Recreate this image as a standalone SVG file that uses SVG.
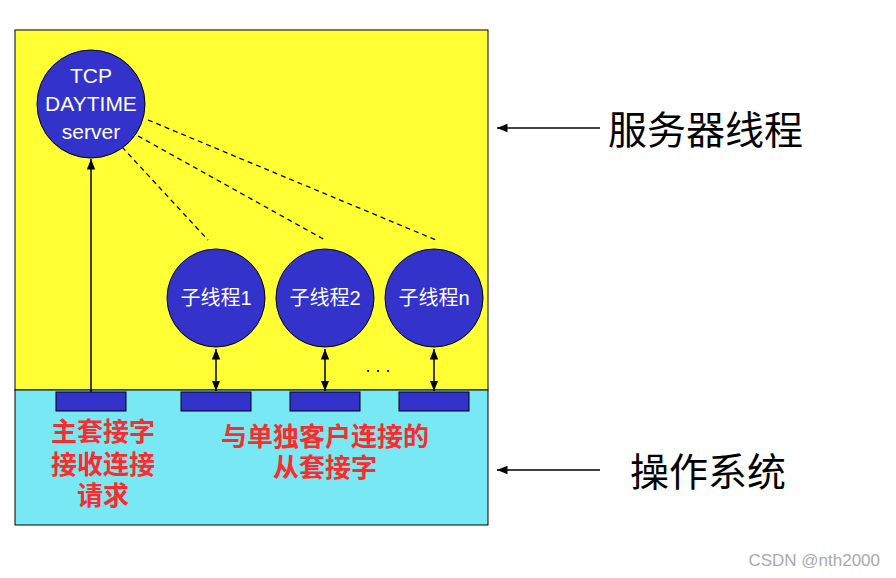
<svg xmlns="http://www.w3.org/2000/svg" width="896" height="578" viewBox="0 0 896 578">
<defs>
<marker id="ah" viewBox="0 0 10 10" refX="10" refY="5" markerWidth="7" markerHeight="7" orient="auto-start-reverse"><path d="M0,1 L10,5 L0,9 z" fill="#000"/></marker>
<style>
.c{fill:#3333cc;stroke:#000;stroke-width:1}
.s{fill:#3333cc;stroke:#000;stroke-width:1}
.w{fill:#fff;font-family:"Liberation Sans","Noto Sans CJK SC",sans-serif;text-anchor:middle}
.r{fill:#ff2a2a;font-weight:bold;font-size:26px;font-family:"Liberation Sans","Noto Sans CJK SC",sans-serif;text-anchor:middle}
.b{fill:#000;font-size:39px;font-family:"Noto Sans CJK SC",sans-serif}
.ln{stroke:#000;stroke-width:1.5;fill:none}
.d{stroke:#000;stroke-width:1.3;stroke-dasharray:5,4;fill:none}
</style>
</defs>
<rect width="896" height="578" fill="#fff"/>
<rect id="server-area" x="15" y="30" width="473" height="360" fill="#ffff33" stroke="#000"/>
<rect id="os-area" x="15" y="390" width="473" height="135" fill="#77e8f4" stroke="#000"/>
<g id="connectors">
<path class="d" d="M122,147 L208,240"/>
<path class="d" d="M138,136 L325,240"/>
<path class="d" d="M148,120 L436,240"/>
<path class="ln" d="M91,392 L91,159" marker-end="url(#ah)"/>
<path class="ln" d="M216,349 L216,391" marker-start="url(#ah)" marker-end="url(#ah)"/>
<path class="ln" d="M325,349 L325,391" marker-start="url(#ah)" marker-end="url(#ah)"/>
<path class="ln" d="M434,349 L434,391" marker-start="url(#ah)" marker-end="url(#ah)"/>
<path class="ln" d="M600,128 L497,128" marker-end="url(#ah)"/>
<path class="ln" d="M600,470 L497,470" marker-end="url(#ah)"/>
</g>
<g id="tcp-server"><circle class="c" cx="91" cy="104" r="54"/>
<text class="w" font-size="21" x="91" y="83">TCP</text><text class="w" font-size="21" x="91" y="111">DAYTIME</text><text class="w" font-size="21" x="91" y="139">server</text></g>
<g id="child1"><circle class="c" cx="216" cy="298" r="49"/><text class="w" font-size="20" x="216" y="305">子线程1</text></g>
<g id="child2"><circle class="c" cx="325" cy="298" r="49"/><text class="w" font-size="20" x="325" y="305">子线程2</text></g>
<g id="childn"><circle class="c" cx="434" cy="298" r="49"/><text class="w" font-size="20" x="434" y="305">子线程n</text></g>
<text x="378" y="372" font-size="18" font-family="Liberation Sans,sans-serif" text-anchor="middle">. . .</text>
<g id="sockets">
<rect class="s" x="56" y="392" width="70" height="19"/>
<rect class="s" x="181" y="392" width="70" height="19"/>
<rect class="s" x="290" y="392" width="70" height="19"/>
<rect class="s" x="399" y="392" width="70" height="19"/>
</g>
<g id="labels">
<text class="r" x="103" y="441">主套接字</text>
<text class="r" x="103" y="474">接收连接</text>
<text class="r" x="103" y="505">请求</text>
<text class="r" x="325" y="446">与单独客户连接的</text>
<text class="r" x="325" y="477">从套接字</text>
<text class="b" x="608" y="144">服务器线程</text>
<text class="b" x="630" y="486">操作系统</text>
<text x="880" y="566" font-size="17" fill="#aaa" font-family="Liberation Sans,sans-serif" text-anchor="end">CSDN @nth2000</text>
</g>
</svg>
